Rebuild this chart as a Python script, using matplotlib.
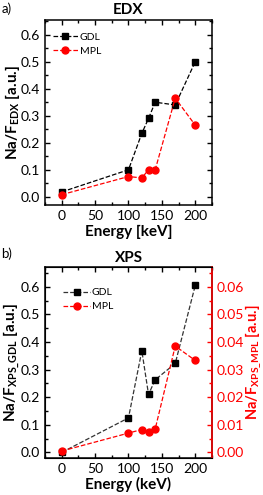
import matplotlib
matplotlib.use('Agg')
import matplotlib.pyplot as plt
from matplotlib.ticker import MultipleLocator, FormatStrFormatter

plt.rcParams['font.family'] = ['Lato', 'DejaVu Sans']
plt.rcParams['mathtext.fontset'] = 'custom'
plt.rcParams['mathtext.rm'] = 'Lato'
plt.rcParams['mathtext.bf'] = 'Lato:bold'

energy = [0, 100, 120, 130, 140, 170, 200]

# EDX
edx_gdl = [0.018, 0.100, 0.235, 0.290, 0.350, 0.340, 0.500]
edx_mpl = [0.008, 0.075, 0.070, 0.100, 0.100, 0.365, 0.265]

# XPS (MPL on right axis)
xps_gdl = [0.000, 0.125, 0.368, 0.210, 0.263, 0.322, 0.605]
xps_mpl = [0.0005, 0.0070, 0.0083, 0.0075, 0.0085, 0.0385, 0.0333]

TICK = 10
LAB = 11

fig = plt.figure(figsize=(2.63, 4.95), dpi=100)
ax1 = fig.add_axes([0.171, 0.586, 0.635, 0.374])
ax2 = fig.add_axes([0.171, 0.0754, 0.635, 0.385])


def style(ax, right=True):
    ax.set_xlim(-25, 225)
    ax.xaxis.set_major_locator(MultipleLocator(50))
    ax.xaxis.set_minor_locator(MultipleLocator(25))
    ax.yaxis.set_major_locator(MultipleLocator(0.1))
    ax.yaxis.set_minor_locator(MultipleLocator(0.05))
    ax.tick_params(which='both', direction='in', top=True, right=right, labelsize=TICK, width=1)
    ax.tick_params(which='major', length=3.5)
    ax.tick_params(which='minor', length=2)
    for s in ax.spines.values():
        s.set_linewidth(1.1)


# ---- a) EDX
ax1.plot(energy, edx_gdl, '--s', color='black', lw=0.9, ms=4, label='GDL')
ax1.plot(energy, edx_mpl, '--o', color='red', lw=0.9, ms=5, label='MPL')
style(ax1)
ax1.set_ylim(-0.03, 0.655)
ax1.set_title('EDX', fontsize=LAB, fontweight='bold', pad=4)
ax1.set_xlabel('Energy [keV]', fontsize=LAB, fontweight='bold', labelpad=2)
ax1.set_ylabel(r'$\mathbf{Na/F_{EDX}}$ [a.u.]', fontsize=LAB, fontweight='bold')
ax1.yaxis.set_label_coords(-0.135, 0.5)
ax1.legend(loc='upper left', frameon=False, fontsize=7.5, handlelength=2.4,
           handletextpad=0.15, borderpad=0, borderaxespad=0, labelspacing=0.45,
           bbox_to_anchor=(0.048, 0.93))
fig.text(0.005, 0.995, 'a)', fontsize=9.5, va='top')

# ---- b) XPS
l1, = ax2.plot(energy, xps_gdl, '--s', color='#333333', mfc='black', mec='black',
               lw=0.9, ms=4, label='GDL')
ax2r = ax2.twinx()
l2, = ax2r.plot(energy, xps_mpl, '--o', color='red', lw=0.9, ms=5, label='MPL')
style(ax2, right=False)
ax2.set_ylim(-0.019, 0.671)
ax2r.set_ylim(-0.0019, 0.0671)
ax2r.yaxis.set_major_locator(MultipleLocator(0.01))
ax2r.yaxis.set_minor_locator(MultipleLocator(0.005))
ax2r.tick_params(which='both', direction='in', colors='red', labelsize=TICK, width=1, pad=3)
ax2r.tick_params(which='major', length=3.5)
ax2r.tick_params(which='minor', length=2)
ax2r.spines['right'].set_color('red')
ax2r.spines['right'].set_linewidth(1.1)
ax2r.yaxis.set_major_formatter(FormatStrFormatter('%.2f'))
ax2.set_title('XPS', fontsize=LAB, fontweight='bold', pad=4)
ax2.set_xlabel('Energy (keV)', fontsize=LAB, fontweight='bold', labelpad=2)
ax2.set_ylabel(r'$\mathbf{Na/F_{XPS\_GDL}}$ [a.u.]', fontsize=LAB, fontweight='bold')
ax2.yaxis.set_label_coords(-0.135, 0.5)
ax2r.set_ylabel(r'$\mathbf{Na/F_{XPS\_MPL}}$ [a.u.]', fontsize=10.5, fontweight='bold',
                color='red')
ax2r.yaxis.set_label_coords(1.19, 0.5)
ax2.legend([l1, l2], ['GDL', 'MPL'], loc='upper left', frameon=False, fontsize=7.5,
           handlelength=2.6, handletextpad=0.15, borderpad=0, borderaxespad=0,
           labelspacing=0.45, bbox_to_anchor=(0.108, 0.89))
fig.text(0.005, 0.5, 'b)', fontsize=9.5, va='top')

fig.savefig('out.png', dpi=100)
